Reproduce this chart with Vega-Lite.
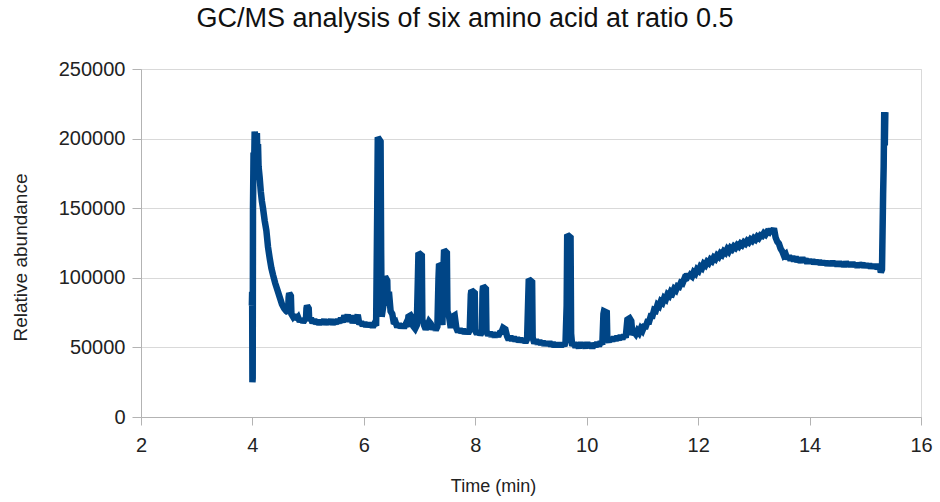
{
  "$schema": "https://vega.github.io/schema/vega-lite/v6.json",
  "autosize": "none",
  "width": 780,
  "height": 348,
  "padding": {"left": 141, "top": 69, "right": 19, "bottom": 85},
  "background": "white",
  "config": {
    "font": "Liberation Sans",
    "view": {"stroke": "#d9d9d9", "strokeWidth": 1}
  },
  "title": {
    "text": "GC/MS analysis of six amino acid at ratio 0.5",
    "fontSize": 27,
    "fontWeight": "normal",
    "color": "#111111",
    "anchor": "middle",
    "dx": -66,
    "offset": 26
  },
  "data": {
    "values": [
      {"t": 3.99, "v": 80000}, {"t": 3.995, "v": 90000}, {"t": 4.0, "v": 25000}, {"t": 4.005, "v": 28000},
      {"t": 4.01, "v": 150000}, {"t": 4.02, "v": 190000}, {"t": 4.03, "v": 178000}, {"t": 4.04, "v": 205000},
      {"t": 4.06, "v": 200000}, {"t": 4.08, "v": 204000}, {"t": 4.09, "v": 186000}, {"t": 4.1, "v": 196000},
      {"t": 4.11, "v": 180000}, {"t": 4.13, "v": 172000}, {"t": 4.15, "v": 162000}, {"t": 4.17, "v": 155000},
      {"t": 4.19, "v": 150000}, {"t": 4.22, "v": 141000}, {"t": 4.25, "v": 134000}, {"t": 4.28, "v": 122000},
      {"t": 4.31, "v": 114000}, {"t": 4.34, "v": 107000}, {"t": 4.37, "v": 102000}, {"t": 4.41, "v": 96000},
      {"t": 4.45, "v": 91000}, {"t": 4.49, "v": 86000}, {"t": 4.53, "v": 81000}, {"t": 4.57, "v": 78000},
      {"t": 4.61, "v": 76000}, {"t": 4.64, "v": 75000}, {"t": 4.65, "v": 86000}, {"t": 4.66, "v": 89000},
      {"t": 4.69, "v": 87000}, {"t": 4.7, "v": 74000}, {"t": 4.73, "v": 72000}, {"t": 4.76, "v": 73500},
      {"t": 4.79, "v": 70000}, {"t": 4.82, "v": 71500}, {"t": 4.85, "v": 68500}, {"t": 4.88, "v": 70500},
      {"t": 4.91, "v": 68000}, {"t": 4.94, "v": 70000}, {"t": 4.96, "v": 69000}, {"t": 4.97, "v": 78000},
      {"t": 4.98, "v": 80000}, {"t": 5.01, "v": 78000}, {"t": 5.02, "v": 69000}, {"t": 5.05, "v": 71000},
      {"t": 5.08, "v": 67500}, {"t": 5.11, "v": 70000}, {"t": 5.14, "v": 67000}, {"t": 5.17, "v": 69500},
      {"t": 5.2, "v": 66500}, {"t": 5.23, "v": 69500}, {"t": 5.26, "v": 67000}, {"t": 5.29, "v": 70000},
      {"t": 5.32, "v": 66500}, {"t": 5.35, "v": 69000}, {"t": 5.38, "v": 67000}, {"t": 5.41, "v": 70000},
      {"t": 5.44, "v": 66500}, {"t": 5.47, "v": 69500}, {"t": 5.5, "v": 67000}, {"t": 5.53, "v": 70000},
      {"t": 5.56, "v": 67500}, {"t": 5.59, "v": 71000}, {"t": 5.62, "v": 68000}, {"t": 5.65, "v": 73000},
      {"t": 5.68, "v": 70000}, {"t": 5.71, "v": 73500}, {"t": 5.74, "v": 68500}, {"t": 5.77, "v": 73000},
      {"t": 5.8, "v": 67500}, {"t": 5.83, "v": 72000}, {"t": 5.86, "v": 69000}, {"t": 5.89, "v": 73500},
      {"t": 5.92, "v": 66500}, {"t": 5.95, "v": 68500}, {"t": 5.98, "v": 65500}, {"t": 6.01, "v": 68000},
      {"t": 6.04, "v": 65000}, {"t": 6.07, "v": 67500}, {"t": 6.1, "v": 65000}, {"t": 6.13, "v": 67500},
      {"t": 6.16, "v": 64500}, {"t": 6.19, "v": 67000}, {"t": 6.22, "v": 65500}, {"t": 6.24, "v": 150000},
      {"t": 6.25, "v": 201000}, {"t": 6.3, "v": 198000}, {"t": 6.31, "v": 120000}, {"t": 6.32, "v": 72000},
      {"t": 6.35, "v": 80000}, {"t": 6.38, "v": 101000}, {"t": 6.42, "v": 98000}, {"t": 6.43, "v": 80000},
      {"t": 6.45, "v": 90000}, {"t": 6.48, "v": 76000}, {"t": 6.51, "v": 74000}, {"t": 6.54, "v": 67000},
      {"t": 6.57, "v": 68000}, {"t": 6.6, "v": 64500}, {"t": 6.63, "v": 67000}, {"t": 6.66, "v": 64000},
      {"t": 6.69, "v": 66500}, {"t": 6.72, "v": 64000}, {"t": 6.75, "v": 66500}, {"t": 6.78, "v": 65000},
      {"t": 6.8, "v": 72000}, {"t": 6.84, "v": 73000}, {"t": 6.87, "v": 71000}, {"t": 6.89, "v": 65000},
      {"t": 6.92, "v": 63500}, {"t": 6.95, "v": 66000}, {"t": 6.97, "v": 100000}, {"t": 6.98, "v": 118000},
      {"t": 7.04, "v": 116000}, {"t": 7.05, "v": 70000}, {"t": 7.08, "v": 66000}, {"t": 7.11, "v": 63000},
      {"t": 7.14, "v": 65500}, {"t": 7.17, "v": 68500}, {"t": 7.2, "v": 67000}, {"t": 7.23, "v": 63000},
      {"t": 7.26, "v": 65500}, {"t": 7.29, "v": 62500}, {"t": 7.32, "v": 65000}, {"t": 7.34, "v": 100000},
      {"t": 7.35, "v": 110000}, {"t": 7.4, "v": 108000}, {"t": 7.41, "v": 66000}, {"t": 7.43, "v": 108000},
      {"t": 7.44, "v": 120000}, {"t": 7.49, "v": 118000}, {"t": 7.5, "v": 76000}, {"t": 7.53, "v": 72000},
      {"t": 7.56, "v": 64000}, {"t": 7.59, "v": 72000}, {"t": 7.63, "v": 73000}, {"t": 7.66, "v": 64000},
      {"t": 7.69, "v": 61000}, {"t": 7.72, "v": 63500}, {"t": 7.75, "v": 60500}, {"t": 7.78, "v": 63000},
      {"t": 7.81, "v": 60000}, {"t": 7.84, "v": 62500}, {"t": 7.87, "v": 60000}, {"t": 7.9, "v": 62500},
      {"t": 7.92, "v": 88000}, {"t": 7.93, "v": 91000}, {"t": 7.99, "v": 89000}, {"t": 8.0, "v": 62000},
      {"t": 8.03, "v": 59500}, {"t": 8.06, "v": 62000}, {"t": 8.09, "v": 59000}, {"t": 8.12, "v": 61000},
      {"t": 8.13, "v": 90000}, {"t": 8.14, "v": 94000}, {"t": 8.19, "v": 92000}, {"t": 8.2, "v": 62000},
      {"t": 8.23, "v": 58500}, {"t": 8.26, "v": 61000}, {"t": 8.29, "v": 58000}, {"t": 8.32, "v": 60500},
      {"t": 8.35, "v": 57500}, {"t": 8.38, "v": 60000}, {"t": 8.41, "v": 58000}, {"t": 8.44, "v": 60500},
      {"t": 8.47, "v": 61000}, {"t": 8.5, "v": 64000}, {"t": 8.54, "v": 63000}, {"t": 8.57, "v": 58000},
      {"t": 8.6, "v": 55500}, {"t": 8.63, "v": 58000}, {"t": 8.66, "v": 55000}, {"t": 8.69, "v": 57500},
      {"t": 8.72, "v": 54500}, {"t": 8.75, "v": 57000}, {"t": 8.78, "v": 54000}, {"t": 8.81, "v": 56500},
      {"t": 8.84, "v": 54000}, {"t": 8.87, "v": 56000}, {"t": 8.9, "v": 53500}, {"t": 8.93, "v": 56000},
      {"t": 8.95, "v": 85000}, {"t": 8.96, "v": 99000}, {"t": 9.02, "v": 97000}, {"t": 9.03, "v": 57000},
      {"t": 9.06, "v": 53000}, {"t": 9.09, "v": 55500}, {"t": 9.12, "v": 52500}, {"t": 9.15, "v": 55000},
      {"t": 9.18, "v": 52000}, {"t": 9.21, "v": 54500}, {"t": 9.24, "v": 51500}, {"t": 9.27, "v": 54000},
      {"t": 9.3, "v": 51500}, {"t": 9.33, "v": 54000}, {"t": 9.36, "v": 51000}, {"t": 9.39, "v": 53500},
      {"t": 9.42, "v": 50500}, {"t": 9.45, "v": 53000}, {"t": 9.48, "v": 50500}, {"t": 9.51, "v": 53000},
      {"t": 9.54, "v": 50500}, {"t": 9.57, "v": 53000}, {"t": 9.6, "v": 51000}, {"t": 9.62, "v": 54000},
      {"t": 9.64, "v": 80000}, {"t": 9.65, "v": 131000}, {"t": 9.71, "v": 129000}, {"t": 9.72, "v": 60000},
      {"t": 9.74, "v": 51000}, {"t": 9.77, "v": 53500}, {"t": 9.8, "v": 50000}, {"t": 9.83, "v": 53000},
      {"t": 9.86, "v": 49500}, {"t": 9.89, "v": 53500}, {"t": 9.92, "v": 50000}, {"t": 9.95, "v": 53000},
      {"t": 9.98, "v": 49500}, {"t": 10.01, "v": 53500}, {"t": 10.04, "v": 50000}, {"t": 10.07, "v": 53000},
      {"t": 10.1, "v": 49500}, {"t": 10.13, "v": 53000}, {"t": 10.16, "v": 50500}, {"t": 10.19, "v": 53500},
      {"t": 10.22, "v": 51000}, {"t": 10.25, "v": 54000}, {"t": 10.28, "v": 52000}, {"t": 10.3, "v": 74000},
      {"t": 10.31, "v": 76000}, {"t": 10.36, "v": 75000}, {"t": 10.37, "v": 56000}, {"t": 10.4, "v": 54000},
      {"t": 10.43, "v": 57000}, {"t": 10.46, "v": 54500}, {"t": 10.49, "v": 57500}, {"t": 10.52, "v": 55000},
      {"t": 10.55, "v": 58000}, {"t": 10.58, "v": 55500}, {"t": 10.61, "v": 58500}, {"t": 10.64, "v": 56000},
      {"t": 10.67, "v": 59000}, {"t": 10.7, "v": 57000}, {"t": 10.73, "v": 70000}, {"t": 10.77, "v": 71000},
      {"t": 10.8, "v": 69000}, {"t": 10.82, "v": 59000}, {"t": 10.85, "v": 61000}, {"t": 10.88, "v": 59500},
      {"t": 10.91, "v": 62000}, {"t": 10.94, "v": 60500}, {"t": 10.97, "v": 63500}, {"t": 11.0, "v": 62000},
      {"t": 11.03, "v": 65000}, {"t": 11.06, "v": 65000}, {"t": 11.09, "v": 68500}, {"t": 11.12, "v": 68500},
      {"t": 11.15, "v": 72500}, {"t": 11.18, "v": 72500}, {"t": 11.21, "v": 77000}, {"t": 11.24, "v": 76500},
      {"t": 11.27, "v": 80500}, {"t": 11.3, "v": 79500}, {"t": 11.33, "v": 83000}, {"t": 11.36, "v": 82000},
      {"t": 11.39, "v": 85500}, {"t": 11.42, "v": 84500}, {"t": 11.45, "v": 88000}, {"t": 11.48, "v": 87000},
      {"t": 11.51, "v": 90000}, {"t": 11.54, "v": 89000}, {"t": 11.57, "v": 92000}, {"t": 11.6, "v": 91000},
      {"t": 11.63, "v": 94000}, {"t": 11.66, "v": 93500}, {"t": 11.69, "v": 96500}, {"t": 11.72, "v": 96000},
      {"t": 11.75, "v": 99000}, {"t": 11.78, "v": 98000}, {"t": 11.8, "v": 103000}, {"t": 11.83, "v": 100000},
      {"t": 11.86, "v": 102000}, {"t": 11.89, "v": 101000}, {"t": 11.92, "v": 104000}, {"t": 11.95, "v": 103000},
      {"t": 11.98, "v": 106000}, {"t": 12.01, "v": 105000}, {"t": 12.04, "v": 108000}, {"t": 12.07, "v": 107000},
      {"t": 12.1, "v": 110000}, {"t": 12.13, "v": 109000}, {"t": 12.16, "v": 111500}, {"t": 12.19, "v": 110500},
      {"t": 12.22, "v": 113000}, {"t": 12.25, "v": 112000}, {"t": 12.28, "v": 114500}, {"t": 12.31, "v": 113500},
      {"t": 12.34, "v": 116000}, {"t": 12.37, "v": 115000}, {"t": 12.4, "v": 117500}, {"t": 12.43, "v": 116500},
      {"t": 12.46, "v": 119000}, {"t": 12.49, "v": 118000}, {"t": 12.52, "v": 120500}, {"t": 12.55, "v": 119000},
      {"t": 12.58, "v": 121500}, {"t": 12.61, "v": 120500}, {"t": 12.64, "v": 122500}, {"t": 12.67, "v": 121500},
      {"t": 12.7, "v": 123500}, {"t": 12.73, "v": 122500}, {"t": 12.76, "v": 124500}, {"t": 12.79, "v": 123500},
      {"t": 12.82, "v": 125500}, {"t": 12.85, "v": 124500}, {"t": 12.88, "v": 126500}, {"t": 12.91, "v": 125500},
      {"t": 12.94, "v": 127500}, {"t": 12.97, "v": 126500}, {"t": 13.0, "v": 128500}, {"t": 13.03, "v": 127500},
      {"t": 13.06, "v": 129500}, {"t": 13.09, "v": 128500}, {"t": 13.12, "v": 130500}, {"t": 13.15, "v": 130000},
      {"t": 13.18, "v": 132000}, {"t": 13.21, "v": 131000}, {"t": 13.24, "v": 133000}, {"t": 13.27, "v": 132500},
      {"t": 13.3, "v": 135000}, {"t": 13.33, "v": 133000}, {"t": 13.36, "v": 135500}, {"t": 13.39, "v": 129000},
      {"t": 13.42, "v": 126000}, {"t": 13.45, "v": 124500}, {"t": 13.48, "v": 121000}, {"t": 13.51, "v": 119000},
      {"t": 13.54, "v": 116000}, {"t": 13.57, "v": 117000}, {"t": 13.6, "v": 113500}, {"t": 13.63, "v": 116000},
      {"t": 13.66, "v": 112500}, {"t": 13.69, "v": 115500}, {"t": 13.72, "v": 112000}, {"t": 13.75, "v": 115000},
      {"t": 13.78, "v": 111500}, {"t": 13.81, "v": 114000}, {"t": 13.84, "v": 111000}, {"t": 13.87, "v": 114500},
      {"t": 13.9, "v": 111500}, {"t": 13.93, "v": 113500}, {"t": 13.96, "v": 110500}, {"t": 13.99, "v": 113000},
      {"t": 14.02, "v": 110500}, {"t": 14.05, "v": 113000}, {"t": 14.08, "v": 110000}, {"t": 14.11, "v": 112500},
      {"t": 14.14, "v": 110000}, {"t": 14.17, "v": 112500}, {"t": 14.2, "v": 109500}, {"t": 14.23, "v": 112000},
      {"t": 14.26, "v": 109500}, {"t": 14.29, "v": 112000}, {"t": 14.32, "v": 109000}, {"t": 14.35, "v": 111500},
      {"t": 14.38, "v": 109000}, {"t": 14.41, "v": 112000}, {"t": 14.44, "v": 109000}, {"t": 14.47, "v": 111500},
      {"t": 14.5, "v": 108500}, {"t": 14.53, "v": 111500}, {"t": 14.56, "v": 108500}, {"t": 14.59, "v": 111000},
      {"t": 14.62, "v": 108000}, {"t": 14.65, "v": 111500}, {"t": 14.68, "v": 108500}, {"t": 14.71, "v": 111000},
      {"t": 14.74, "v": 108000}, {"t": 14.77, "v": 111000}, {"t": 14.8, "v": 108000}, {"t": 14.83, "v": 110500},
      {"t": 14.86, "v": 107500}, {"t": 14.89, "v": 110500}, {"t": 14.92, "v": 108000}, {"t": 14.95, "v": 110500},
      {"t": 14.98, "v": 107500}, {"t": 15.01, "v": 110000}, {"t": 15.04, "v": 107500}, {"t": 15.07, "v": 110000},
      {"t": 15.1, "v": 107000}, {"t": 15.13, "v": 109500}, {"t": 15.16, "v": 107000}, {"t": 15.19, "v": 109500},
      {"t": 15.22, "v": 106500}, {"t": 15.25, "v": 109000}, {"t": 15.28, "v": 104000}, {"t": 15.3, "v": 106000},
      {"t": 15.32, "v": 160000}, {"t": 15.33, "v": 180000}, {"t": 15.34, "v": 219000}, {"t": 15.35, "v": 195000},
      {"t": 15.36, "v": 219000}
    ]
  },
  "mark": {"type": "line", "color": "#004586", "strokeWidth": 6.5, "strokeJoin": "miter", "strokeMiterLimit": 2},
  "encoding": {
    "x": {
      "field": "t",
      "type": "quantitative",
      "scale": {"domain": [2, 16], "nice": false, "zero": false},
      "axis": {
        "title": "Time (min)",
        "values": [2, 4, 6, 8, 10, 12, 14, 16],
        "grid": false,
        "labelFlush": false,
        "domainColor": "#b3b3b3",
        "tickColor": "#b3b3b3",
        "tickSize": 8,
        "labelFontSize": 20,
        "labelColor": "#222222",
        "labelPadding": 10,
        "titleFontSize": 18,
        "titleFontWeight": "normal",
        "titleColor": "#222222",
        "titlePadding": 22,
        "titleX": 352
      }
    },
    "y": {
      "field": "v",
      "type": "quantitative",
      "scale": {"domain": [0, 250000], "nice": false},
      "axis": {
        "title": "Relative abundance",
        "values": [0, 50000, 100000, 150000, 200000, 250000],
        "format": "d",
        "grid": true,
        "labelFlush": false,
        "gridColor": "#d9d9d9",
        "domainColor": "#b3b3b3",
        "tickColor": "#b3b3b3",
        "tickSize": 9,
        "labelFontSize": 20,
        "labelColor": "#222222",
        "labelPadding": 7,
        "titleFontSize": 19,
        "titleFontWeight": "normal",
        "titleColor": "#222222",
        "titlePadding": 28,
        "titleY": 188
      }
    }
  }
}
